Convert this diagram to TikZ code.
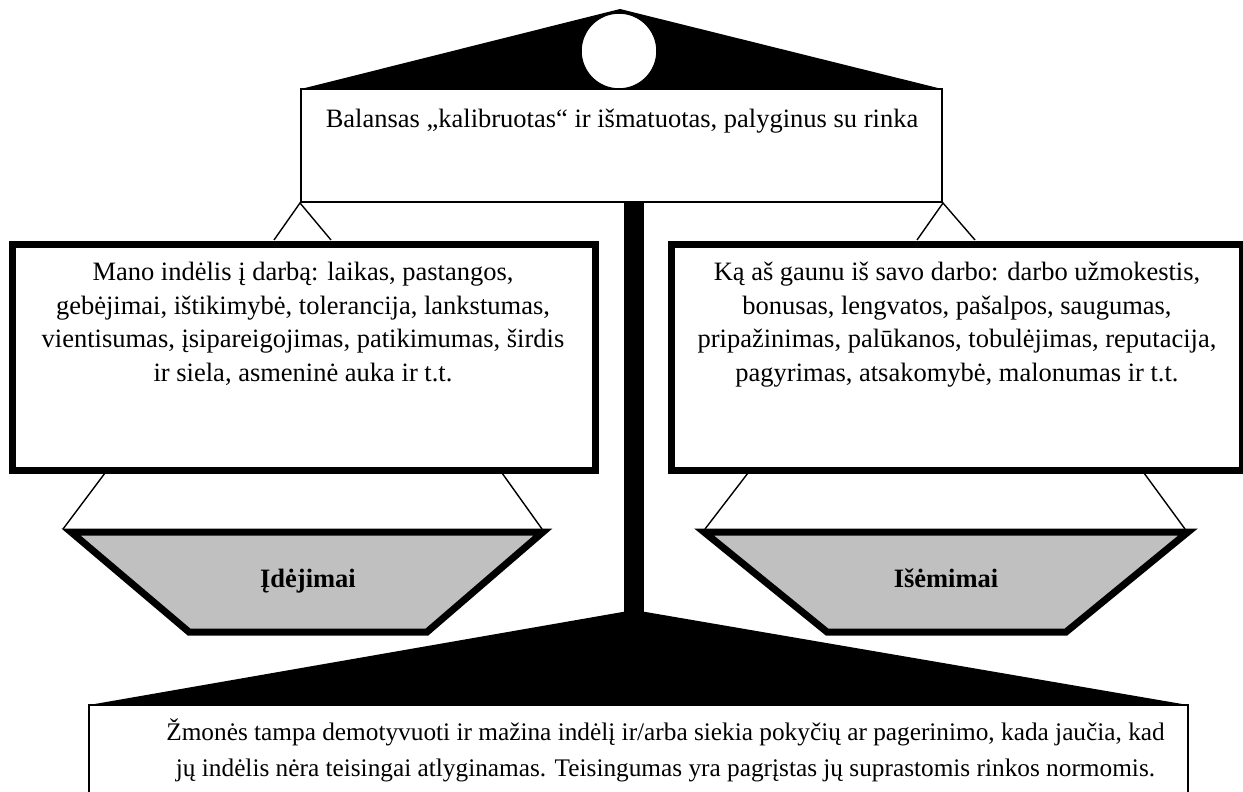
\documentclass[tikz,border=0pt]{standalone}
\usepackage{fontspec}
\setmainfont{Liberation Serif}
\definecolor{pangray}{RGB}{192,192,192}
\begin{document}
\begin{tikzpicture}[x=1pt,y=-1pt,
  thinbox/.style={draw,line width=2pt,fill=white,inner sep=0pt},
  thickbox/.style={draw,line width=7pt,fill=white,inner sep=0pt},
  hanger/.style={line width=1.4pt},
  panshape/.style={draw,line width=7pt,fill=pangray,miter limit=10},
  txt/.style={font=\fontsize{26.5}{33.5}\selectfont,align=center,inner sep=0pt},
  lbl/.style={font=\fontsize{26.5}{33.5}\selectfont\bfseries,inner sep=0pt}]
\useasboundingbox (0,0) rectangle (1243,792);
% top beam triangle
\coordinate (apex) at (620,9);
\fill (301,89) -- (apex) -- (942,89) -- cycle;
\node[circle,draw,fill=white,line width=1.5pt,minimum size=76pt,inner sep=0pt] (knob) at (619,51) {};
% pole
\fill (624,200) rectangle (644,615);
% top box
\node[thinbox,minimum width=641pt,minimum height=113pt] (topbox) at (621.5,145.5) {};
\node[txt,anchor=base] (toptext) at (622,127) {Balansas „kalibruotas“ ir išmatuotas, palyginus su rinka};
% hanging triangles under top box
\coordinate (la) at (274,240); \coordinate (lb) at (331,240);
\coordinate (ra) at (917,240); \coordinate (rb) at (975,240);
\draw[hanger] (la) -- (topbox.south west) -- (lb);
\draw[hanger] (ra) -- (topbox.south east) -- (rb);
% left and right boxes
\node[thickbox,minimum width=583pt,minimum height=226pt] (leftbox) at (303.5,357) {};
\node[thickbox,minimum width=571pt,minimum height=226pt] (rightbox) at (957,357) {};
\node[txt,anchor=base] (lefttext) at (303,381) {Mano indėlis į darbą: laikas, pastangos,\\gebėjimai, ištikimybė, tolerancija, lankstumas,\\vientisumas, įsipareigojimas, patikimumas, širdis\\ir siela, asmeninė auka ir t.t.};
\node[txt,anchor=base] (righttext) at (957,381) {Ką aš gaunu iš savo darbo: darbo užmokestis,\\bonusas, lengvatos, pašalpos, saugumas,\\pripažinimas, palūkanos, tobulėjimas, reputacija,\\pagyrimas, atsakomybė, malonumas ir t.t.};
% pans
\coordinate (lp1) at (71,532); \coordinate (lp2) at (543,532);
\coordinate (lp3) at (427,632); \coordinate (lp4) at (189,632);
\coordinate (rp1) at (704,532); \coordinate (rp2) at (1188,532);
\coordinate (rp3) at (1066,632); \coordinate (rp4) at (827,632);
\coordinate (lh1) at (105,473); \coordinate (lh2) at (502,473);
\coordinate (rh1) at (748,473); \coordinate (rh2) at (1144,473);
\coordinate (lpo1) at (63,529); \coordinate (lpo2) at (542,529);
\coordinate (rpo1) at (705,529); \coordinate (rpo2) at (1185,529);
\draw[hanger] (lh1) -- (lpo1);
\draw[hanger] (lh2) -- (lpo2);
\draw[hanger] (rh1) -- (rpo1);
\draw[hanger] (rh2) -- (rpo2);
\draw[panshape] (lp1) -- (lp2) -- (lp3) -- (lp4) -- cycle;
\draw[panshape] (rp1) -- (rp2) -- (rp3) -- (rp4) -- cycle;
\node[lbl,anchor=base] (leftlbl) at (308,587) {Įdėjimai};
\node[lbl,anchor=base] (rightlbl) at (946,587) {Išėmimai};
% base
\coordinate (bapex) at (634,610);
\fill (89,705) -- (bapex) -- (1188,705) -- cycle;
\draw[line width=2pt,fill=white] (89,705) rectangle (1188,810);
\node[txt,anchor=base,font=\fontsize{25.3}{36}\selectfont] (bottomtext) at (665.5,776) {Žmonės tampa demotyvuoti ir mažina indėlį ir/arba siekia pokyčių ar pagerinimo, kada jaučia, kad\\jų indėlis nėra teisingai atlyginamas. Teisingumas yra pagrįstas jų suprastomis rinkos normomis.};
\end{tikzpicture}
\end{document}
